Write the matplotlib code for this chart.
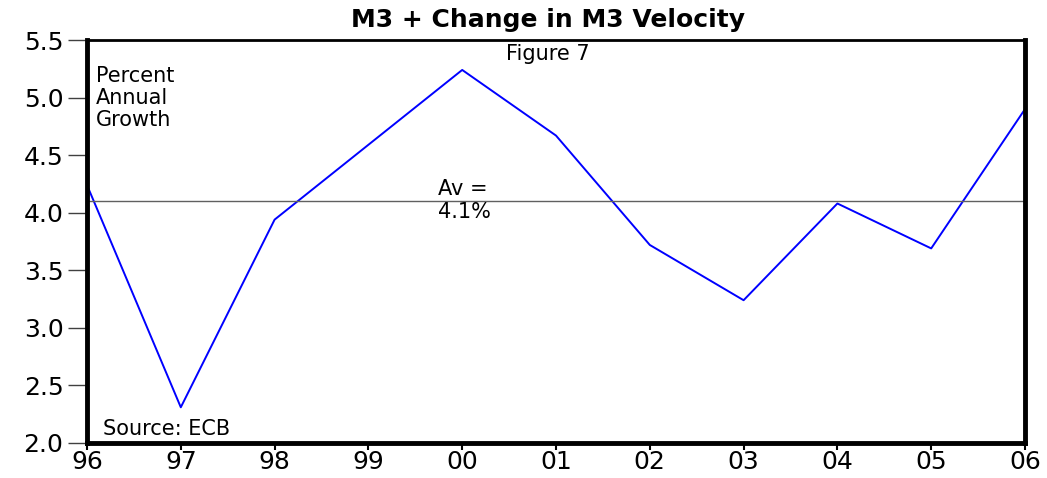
import matplotlib
matplotlib.use("Agg")
import matplotlib.pyplot as plt

years = [1996, 1997, 1998, 1999, 2000, 2001, 2002, 2003, 2004, 2005, 2006]
year_labels = ["96", "97", "98", "99", "00", "01", "02", "03", "04", "05", "06"]
growth = [4.24, 2.31, 3.94, 4.59, 5.24, 4.67, 3.72, 3.24, 4.08, 3.69, 4.90]
average = 4.1
y_ticks = [2.0, 2.5, 3.0, 3.5, 4.0, 4.5, 5.0, 5.5]

plt.rcParams['font.family'] = ['DejaVu Sans']

fig = plt.figure(figsize=(10.47, 4.78), dpi=100)
ax = fig.add_axes([87/1047, 35/478, (1025-87)/1047, (443-40)/478])

ax.plot(years, growth, color='#0000ff', lw=1.4)
ax.axhline(average, color='#606060', lw=1.0)

ax.set_xlim(years[0], years[-1])
ax.set_ylim(2.0, 5.5)
ax.set_xticks(years)
ax.set_xticklabels(year_labels, fontsize=18)
ax.set_yticks(y_ticks)
ax.set_yticklabels([f"{v:.1f}" for v in y_ticks], fontsize=18)
ax.tick_params(axis='y', direction='out', length=14, width=1, color='#404040', pad=3)
ax.tick_params(axis='x', direction='out', length=5, width=1.5, pad=0)

for s in ['left', 'bottom', 'right']:
    ax.spines[s].set_linewidth(3.5)
ax.spines['top'].set_linewidth(2)

def px(x, y):
    return x / 1047, 1 - y / 478

fig.text(*px(548, 27), "M3 + Change in M3 Velocity", ha='center', va='baseline',
         fontsize=18, fontweight='bold')
fig.text(*px(548, 60), "Figure 7", ha='center', va='baseline', fontsize=15)
for yb, line in zip([82, 104, 126], ["Percent", "Annual", "Growth"]):
    fig.text(*px(96, yb), line, ha='left', va='baseline', fontsize=15)
fig.text(*px(103, 435), "Source: ECB", ha='left', va='baseline', fontsize=15)
fig.text(*px(438, 195), "Av =", ha='left', va='baseline', fontsize=15)
fig.text(*px(438, 218), "4.1%", ha='left', va='baseline', fontsize=15)

fig.savefig("out.png", dpi=100)
